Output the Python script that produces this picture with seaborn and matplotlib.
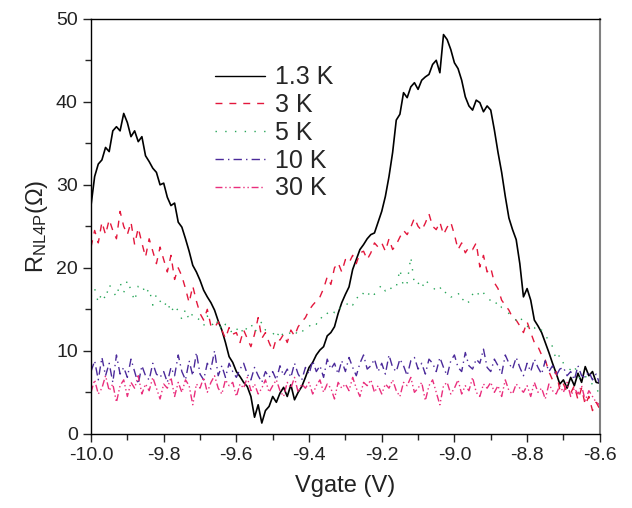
import numpy as np
import pandas as pd
import matplotlib
matplotlib.use("Agg")
import matplotlib.pyplot as plt
import seaborn as sns

# R_NL4P (Ohm) vs Vgate, sampled every 0.01 V from -10.00 to -8.60
r_1p3k = [
    27.5, 31.0, 32.5, 33.0, 34.5, 34.0, 36.5, 37.0, 36.5, 38.6,
    37.5, 35.8, 36.5, 35.2, 35.8, 33.5, 32.8, 32.0, 31.5, 30.0,
    30.2, 28.5, 27.5, 27.8, 25.5, 24.9, 23.5, 22.0, 20.3, 19.5,
    18.5, 17.3, 16.5, 15.8, 14.9, 13.6, 12.5, 11.0, 9.3, 8.6,
    7.5, 6.9, 6.2, 5.7, 4.5, 2.0, 3.5, 1.3, 2.8, 3.3,
    4.5, 3.8, 4.9, 5.6, 4.5, 5.9, 4.1, 5.0, 5.7, 6.8,
    8.0, 8.6, 9.5, 10.1, 10.5, 11.8, 12.2, 12.9, 14.5, 15.8,
    16.8, 17.7, 19.8, 21.0, 22.2, 22.8, 23.5, 24.0, 24.2, 25.5,
    26.8, 28.6, 31.0, 33.9, 37.8, 38.5, 41.1, 40.5, 41.8, 42.3,
    41.5, 42.6, 43.0, 43.3, 44.5, 45.0, 43.5, 48.1, 47.5, 46.3,
    44.7, 44.0, 42.6, 40.6, 39.5, 39.0, 40.2, 39.9, 38.8, 39.5,
    39.0, 36.6, 33.9, 31.5, 28.6, 26.0, 24.6, 23.4, 20.5, 16.5,
    17.5, 16.1, 13.7, 13.0, 12.2, 11.0, 9.8, 8.5, 7.3, 6.0,
    6.5, 5.5, 6.8, 5.8, 7.3, 6.2, 8.1, 7.0, 7.5, 6.2,
    6.1,
]
r_3k = [
    22.5, 24.5, 23.0, 25.5, 24.0, 25.8, 24.5, 23.5, 26.8, 25.0,
    24.0, 25.5, 22.8, 24.8, 23.0, 21.3, 23.5, 22.0, 20.5, 22.5,
    21.0, 19.5, 21.5, 18.6, 20.0, 19.0, 17.5, 15.8, 17.8, 16.0,
    14.5, 13.7, 15.0, 13.0, 12.8, 13.5, 12.5, 11.5, 12.8, 12.0,
    12.2, 11.0, 12.5, 11.5, 10.5, 12.0, 14.0, 11.5, 12.2, 11.0,
    10.0, 11.5, 11.3, 12.0, 11.0, 12.5, 11.8, 12.9, 13.5, 14.0,
    14.9, 15.5, 16.0, 16.5, 17.5, 18.9, 18.0, 20.0, 20.6, 19.5,
    21.0, 20.6, 21.5, 20.5, 21.8, 22.0, 21.0, 21.8, 23.0, 22.5,
    23.0, 22.0, 23.5, 22.2, 22.8, 23.7, 24.5, 24.0, 24.9, 26.0,
    25.0, 24.5, 25.4, 26.5, 25.0, 24.6, 25.5, 24.0, 24.9, 25.5,
    24.0, 22.2, 23.0, 21.8, 22.5, 22.2, 23.0, 20.1, 21.5, 19.5,
    20.0, 18.2, 17.5, 16.1, 15.5, 14.9, 14.0, 13.7, 13.0, 12.2,
    13.5, 12.2, 11.0, 10.5, 9.5, 8.9, 7.5, 6.5, 7.5, 5.3,
    6.0, 5.0, 4.9, 5.8, 4.1, 5.5, 3.5, 4.5, 2.8, 3.8,
    3.0,
]
r_5k = [
    16.5, 17.5, 15.8, 17.0, 16.2, 18.0, 17.2, 16.5, 18.2, 17.0,
    18.5, 17.3, 16.0, 17.8, 18.0, 16.8, 17.5, 15.5, 16.8, 16.0,
    15.3, 16.0, 14.6, 15.5, 14.8, 13.8, 15.0, 13.7, 14.5, 14.0,
    13.7, 13.0, 14.2, 13.5, 12.8, 13.7, 12.5, 13.2, 12.8, 12.0,
    12.5, 13.0, 12.0, 12.9, 13.3, 12.2, 12.9, 13.5, 12.5, 12.2,
    12.2, 11.5, 12.5, 11.7, 12.0, 12.2, 11.8, 12.5, 12.2, 12.9,
    12.9, 13.5, 13.2, 14.1, 13.8, 14.5, 15.0, 14.6, 15.3, 15.0,
    15.3, 16.0, 15.5, 16.5, 16.2, 17.0, 16.5, 17.3, 16.8, 17.3,
    18.0, 17.2, 17.8, 17.3, 17.7, 19.8, 17.7, 18.2, 21.3, 18.0,
    18.2, 17.5, 18.6, 18.0, 17.7, 17.2, 17.7, 16.8, 17.2, 16.5,
    16.5, 17.0, 16.0, 16.5, 15.8, 16.8, 17.3, 16.5, 17.0, 16.2,
    16.1, 15.5, 16.0, 15.2, 14.9, 14.5, 14.0, 13.7, 14.2, 13.3,
    13.0, 12.5, 12.8, 12.2, 12.5, 11.8, 11.3, 10.5, 8.9, 9.5,
    8.5, 8.0, 7.7, 8.2, 7.0, 6.5, 7.0, 6.2, 6.0, 5.7,
    4.5,
]
r_10k = [
    7.5, 8.8, 6.5, 9.2, 7.0, 8.5, 6.2, 9.5, 7.2, 8.0,
    6.8, 9.0, 7.5, 6.0, 8.2, 7.0, 6.5, 8.5, 7.2, 6.8,
    7.5, 6.2, 8.0, 7.0, 9.5, 7.5, 6.5, 8.8, 7.0, 9.8,
    7.2, 6.5, 8.5, 7.8, 10.0, 7.0, 8.2, 6.8, 8.5, 7.5,
    6.8, 7.8, 8.5, 7.2, 6.5, 8.0, 7.0, 6.2, 7.5, 6.8,
    7.5, 6.5, 8.2, 7.0, 7.8, 6.8, 8.5, 7.2, 6.5, 8.0,
    7.2, 8.8, 7.5, 8.2, 6.8, 9.0, 7.8, 8.5, 7.2, 8.8,
    7.5, 9.2, 8.0, 7.0, 8.5, 9.5, 7.8, 8.2, 9.0, 7.5,
    8.5, 7.2, 9.5, 8.0, 7.5, 9.0, 8.2, 7.0, 8.8, 9.2,
    7.8, 8.5, 7.2, 9.0, 8.5, 7.5, 9.2, 8.0, 7.0, 8.8,
    9.5, 8.0, 7.5, 9.8, 8.2, 7.8, 9.0, 8.5, 10.2, 8.0,
    7.5, 9.0, 8.2, 7.2, 9.5, 8.5, 7.8, 9.2, 8.0, 7.0,
    8.5, 7.5, 9.0, 8.0, 7.2, 8.8, 7.5, 8.2, 7.0, 7.8,
    8.0, 7.0, 7.5, 6.5, 8.2, 7.0, 6.8, 7.5, 6.5, 7.2,
    6.0,
]
r_30k = [
    5.0, 6.5, 4.8, 5.5, 7.0, 5.2, 6.0, 3.8, 5.8, 6.5,
    4.5, 6.2, 5.5, 7.0, 4.8, 6.0, 5.2, 6.8, 5.5, 4.2,
    6.0, 5.5, 6.8, 4.5, 6.2, 5.0, 6.5, 5.8, 3.5, 6.0,
    5.5, 6.8, 5.0, 6.2, 7.0, 5.5, 4.8, 6.5, 5.8, 6.2,
    4.5, 6.0, 5.5, 6.8, 5.2, 6.0, 4.8, 5.5, 6.5, 5.0,
    5.8, 6.5, 5.2, 4.5, 6.2, 5.5, 6.8, 5.0, 6.0, 5.5,
    6.2, 4.8, 5.8, 6.5, 5.0, 6.0, 5.5, 4.2, 6.2, 5.5,
    6.0, 5.2, 6.8, 5.5, 4.5, 6.2, 5.8, 6.5, 5.0, 5.8,
    4.8, 6.0, 5.5, 6.5, 5.2, 4.5, 6.2, 5.8, 6.8, 5.0,
    5.5, 6.2, 4.0, 5.8, 6.5, 5.0, 3.5, 5.8, 6.2, 4.8,
    5.5, 6.5, 4.8, 5.8, 5.2, 6.8, 5.0, 4.5, 6.0, 5.5,
    6.2, 5.0, 5.8, 4.5, 6.5, 5.2, 4.8, 6.0, 5.5, 5.0,
    5.8, 4.5, 6.2, 5.0, 5.5, 4.2, 6.0, 5.2, 4.8, 5.8,
    5.0, 6.2, 4.5, 5.5, 4.8, 5.8, 4.0, 5.2, 4.5, 3.8,
    3.5,
]

temps = ["1.3 K", "3 K", "5 K", "10 K", "30 K"]
series = [r_1p3k, r_3k, r_5k, r_10k, r_30k]
vgate = np.round(np.linspace(-10.0, -8.6, len(r_1p3k)), 2)

colors = {"1.3 K": "#000000", "3 K": "#e3173c", "5 K": "#27a558",
          "10 K": "#4b2a9a", "30 K": "#ea2f7d"}
dashes = {"1.3 K": "", "3 K": (5, 5), "5 K": (1, 6),
          "10 K": (6, 3, 1, 3), "30 K": (5, 2, 1, 2, 1, 2)}

df = pd.concat([pd.DataFrame({"Vgate": vgate, "R": s, "T": t})
                for t, s in zip(temps, series)], ignore_index=True)

sns.set_style("ticks")
plt.rcParams["font.family"] = ["Liberation Sans", "DejaVu Sans"]
plt.rcParams["mathtext.default"] = "regular"

fig = plt.figure(figsize=(6.32, 5.08), dpi=100)
ax = fig.add_axes([0.144, 0.146, 0.805, 0.817])

sns.lineplot(data=df, x="Vgate", y="R", hue="T", style="T",
             hue_order=temps, style_order=temps, palette=colors,
             dashes=dashes, estimator=None, linewidth=1.0, ax=ax)
ax.lines[0].set_linewidth(1.2)

ax.set_xlim(-10.0, -8.6)
ax.set_ylim(0, 50)
ax.set_xticks(np.arange(-10.0, -8.59, 0.2))
ax.set_xticks(np.arange(-10.0, -8.59, 0.1), minor=True)
ax.set_xticklabels([f"{v:.1f}" for v in np.arange(-10.0, -8.59, 0.2)])
ax.set_yticks(np.arange(0, 51, 10))
ax.set_yticks(np.arange(0, 51, 5), minor=True)
ax.tick_params(which="major", direction="out", length=6, width=1,
               labelsize=14, colors="#222222")
ax.tick_params(which="minor", direction="out", length=4, width=1)
for side in ["left", "bottom", "top"]:
    ax.spines[side].set_color("black")
    ax.spines[side].set_linewidth(1.0)
ax.spines["right"].set_color("#808080")
ax.spines["right"].set_linewidth(1.5)

ax.set_xlabel("Vgate (V)", fontsize=17, color="#222222", labelpad=8)
ax.set_ylabel("R$_{NL4P}$(Ω)", fontsize=17, color="#222222", labelpad=4)

handles, labels = ax.get_legend_handles_labels()
ax.legend(handles, labels, loc="upper left", bbox_to_anchor=(0.244, 0.888),
          frameon=False, fontsize=18, handlelength=2.0, handletextpad=0.4,
          labelspacing=0.15, borderpad=0, borderaxespad=0)

fig.savefig("out.png", dpi=100)
